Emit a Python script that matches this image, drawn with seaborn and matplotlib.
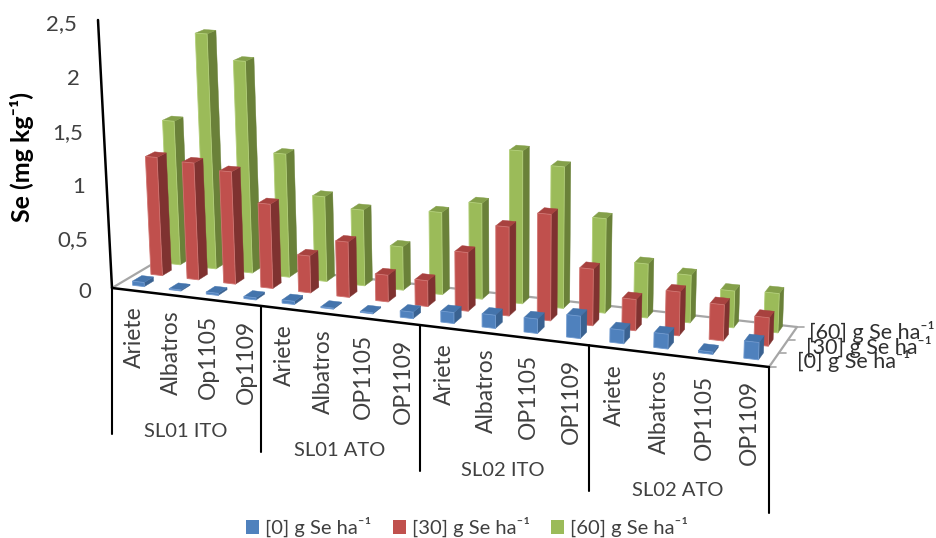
import numpy as np
import pandas as pd
import matplotlib
matplotlib.use("Agg")
import matplotlib.pyplot as plt
import matplotlib.transforms as mtransforms
from matplotlib.patches import Patch
import seaborn as sns

# Se content per cultivar, sowing location and dose
locations = ["SL01 ITO", "SL01 ATO", "SL02 ITO", "SL02 ATO"]
cultivars = ["Ariete", "Albatros", "Op1105", "Op1109",
             "Ariete", "Albatros", "OP1105", "OP1109",
             "Ariete", "Albatros", "OP1105", "OP1109",
             "Ariete", "Albatros", "OP1105", "OP1109"]
dose_labels = ["[0] g Se ha⁻¹", "[30] g Se ha⁻¹", "[60] g Se ha⁻¹"]
se_dose_0 = [0.04, 0.01, 0.02, 0.02, 0.03, 0.01, 0.01, 0.06,
             0.10, 0.12, 0.13, 0.20, 0.12, 0.13, 0.02, 0.15]
se_dose_30 = [1.14, 1.12, 1.07, 0.80, 0.35, 0.52, 0.25, 0.24,
              0.54, 0.81, 0.96, 0.51, 0.28, 0.39, 0.32, 0.25]
se_dose_60 = [1.40, 2.25, 2.02, 1.18, 0.81, 0.72, 0.41, 0.77,
              0.89, 1.40, 1.29, 0.86, 0.49, 0.43, 0.33, 0.35]
y_ticks = [0, 0.5, 1, 1.5, 2, 2.5]

Y_MAX = 2.5
N = len(cultivars)
BAR_W = 0.32
BAR_D = 0.17
BAR_SHIFT = 0.03
DEPTHS = [0.215, 0.55, 0.89]
FACE = ["#4F81BD", "#C0504D", "#9BBB59"]
SIDE = ["#3A6291", "#7F3230", "#6A8139"]
TOP = ["#4474AC", "#A8423F", "#84A04A"]
EDGE = ["#6F9AD0", "#D07370", "#B2CF78"]
TEXT = "#404040"

# Perspective camera: floor corners in pixels plus the top of the value axis
FLOOR_00 = (112, 288)
FLOOR_10 = (769, 367)
FLOOR_01 = (166, 256)
FLOOR_11 = (797, 327)
AXIS_TOP = (98, 20)
VERT_W = 0.966


def floor_homography():
    src = [(0, 0), (1, 0), (0, 1), (1, 1)]
    dst = [FLOOR_00, FLOOR_10, FLOOR_01, FLOOR_11]
    A, b = [], []
    for (u, v), (x, y) in zip(src, dst):
        A.append([u, v, 1, 0, 0, 0, -u * x, -v * x])
        A.append([0, 0, 0, u, v, 1, -u * y, -v * y])
        b += [x, y]
    h = np.linalg.solve(np.array(A, float), np.array(b, float))
    return np.append(h, 1).reshape(3, 3)


H = floor_homography()
P3 = VERT_W * np.array([AXIS_TOP[0], AXIS_TOP[1], 1.0]) - H[:, 2]


def project(x, depth, value):
    """Slot position, depth (0-1) and Se value to figure pixels."""
    x, depth, value = np.broadcast_arrays(np.asarray(x, float), depth, value)
    uvw = (np.outer(H[:, 0], x / N) + np.outer(H[:, 1], depth)
           + np.outer(H[:, 2], np.ones_like(x, dtype=float))
           + np.outer(P3, value / Y_MAX))
    return uvw[0] / uvw[2], uvw[1] / uvw[2]


class WallTransform(mtransforms.Transform):
    """Maps (slot, value) onto the vertical plane at a given depth."""
    input_dims = 2
    output_dims = 2
    is_separable = False
    has_inverse = False

    def __init__(self, plane_depth):
        super().__init__()
        self.plane_depth = plane_depth

    def transform_non_affine(self, values):
        values = np.asarray(values, float)
        px, py = project(values[:, 0], self.plane_depth, values[:, 1])
        return np.column_stack([px, py])


sns.set_theme(style="white")
plt.rcParams["font.family"] = ["Lato", "DejaVu Sans"]

fig = plt.figure(figsize=(9.36, 5.38), dpi=100)
ax = fig.add_axes([0, 0, 1, 1])

series = [se_dose_0, se_dose_30, se_dose_60]
positions = np.arange(N) + 0.5 + BAR_SHIFT

# Back row first so nearer bars overlap it
for idx in (2, 1, 0):
    frame = pd.DataFrame({"slot": positions, "Se": series[idx]})
    sns.barplot(data=frame, x="slot", y="Se", native_scale=True, orient="x",
                width=BAR_W, color=FACE[idx], saturation=1, errorbar=None, ax=ax)
    front = DEPTHS[idx] - BAR_D / 2
    back = DEPTHS[idx] + BAR_D / 2
    base_z = 10 + 3 * (2 - idx)
    wall = WallTransform(front) + ax.transData
    for bar in ax.containers[-1]:
        x0, x1 = bar.get_x(), bar.get_x() + bar.get_width()
        v = bar.get_height()
        bar.set_transform(wall)
        bar.set_clip_on(False)
        bar.set_zorder(base_z + 1)
        bar.set_edgecolor(EDGE[idx])
        bar.set_linewidth(0.6)
        sx, sy = project([x1, x1, x1, x1], [front, back, back, front], [0, 0, v, v])
        ax.fill(sx, sy, color=SIDE[idx], lw=0.3, zorder=base_z)
        tx, ty = project([x0, x1, x1, x0], [front, front, back, back], [v, v, v, v])
        ax.fill(tx, ty, color=TOP[idx], lw=0.3, zorder=base_z)

ax.set_xlim(0, 936)
ax.set_ylim(538, 0)
ax.set_xlabel("")
ax.set_ylabel("")
ax.set_xticks([])
ax.set_yticks([])
sns.despine(ax=ax, left=True, bottom=True)

# Floor outline and depth ticks
GRAY = "#A6A6A6"
for a, b in [((0, 0), (0, 1)), ((0, 1), (N, 1)), ((N, 1), (N, 0))]:
    lx, ly = project([a[0], b[0]], [a[1], b[1]], [0, 0])
    ax.plot(lx, ly, color=GRAY, lw=1.6, zorder=5, solid_capstyle="round")
for d in (0, 1 / 3, 2 / 3, 1):
    tx, ty = project([N], [d], [0])
    ax.plot([tx[0], tx[0] + 7], [ty[0], ty[0]], color=GRAY, lw=1.2, zorder=5)

# Value axis with its labels
lx, ly = project([0, 0], [0, 0], [0, Y_MAX])
ax.plot(lx, ly, color="black", lw=1.8, zorder=30)
for tick in y_ticks:
    tx, ty = project([0], [0], [tick])
    label = f"{tick:g}".replace(".", ",")
    ax.text(tx[0] - 21, ty[0] + 4, label, ha="right", va="center",
            fontsize=16, color=TEXT)
ax.text(22, 157, "Se (mg kg⁻¹)", rotation=90, ha="center", va="center",
        fontsize=18, fontweight="bold", color="black")

# Front edge, location dividers and category labels
lx, ly = project([0, N], [0, 0], [0, 0])
ax.plot(lx, ly, color="black", lw=1.8, zorder=30)
for k in range(0, N + 1, 4):
    tx, ty = project([k], [0], [0])
    ax.plot([tx[0], tx[0]], [ty[0], ty[0] + 146], color="black", lw=1.5, zorder=30)
for i, name in enumerate(cultivars):
    tx, ty = project([i + 0.5], [0], [0])
    ax.text(tx[0] + 4, ty[0] + 16, name, rotation=90, ha="center", va="top",
            fontsize=16.5, color=TEXT)
for j, name in enumerate(locations):
    tx, ty = project([4 * j + 2], [0], [0])
    ax.text(tx[0], ty[0] + 135, name, ha="center", va="center",
            fontsize=14.5, color=TEXT)

# Depth axis series names
for label, (x, y) in zip(dose_labels, [(797, 361), (806, 347), (809, 332)]):
    ax.text(x, y, label, ha="left", va="center", fontsize=15.5, color="#303030", zorder=31)

handles = [Patch(facecolor=c, edgecolor="none", label=l) for c, l in zip(FACE, dose_labels)]
ax.legend(handles=handles, ncol=3, frameon=False, fontsize=14.5,
          loc="center", bbox_to_anchor=(467, 527),
          bbox_transform=ax.transData, handlelength=0.65, handleheight=0.65,
          handletextpad=0.3, columnspacing=1.05, labelcolor=TEXT)

fig.savefig("out.png", dpi=100)
